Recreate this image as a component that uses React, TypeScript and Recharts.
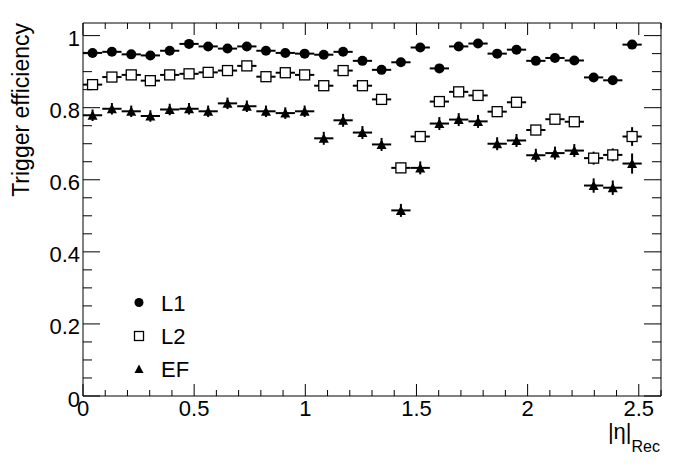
import { ErrorBar, Legend, Scatter, ScatterChart, XAxis, YAxis } from "recharts";

// |eta| bin centres (30 bins over 0-2.6, last one empty)
const etaBins = [
  0.043, 0.13, 0.217, 0.303, 0.39, 0.477, 0.563, 0.65, 0.737, 0.823,
  0.91, 0.997, 1.083, 1.17, 1.257, 1.343, 1.43, 1.517, 1.603, 1.69,
  1.777, 1.863, 1.95, 2.037, 2.123, 2.21, 2.297, 2.383, 2.47,
];
const etaHalfWidth = 0.0433;

const l1Eff = [
  0.952, 0.955, 0.948, 0.945, 0.958, 0.977, 0.970, 0.964, 0.970, 0.958,
  0.952, 0.950, 0.947, 0.955, 0.930, 0.905, 0.926, 0.967, 0.909, 0.970,
  0.978, 0.950, 0.961, 0.930, 0.938, 0.931, 0.884, 0.876, 0.975,
];
const l1Err = [
  0.004, 0.004, 0.004, 0.004, 0.004, 0.003, 0.003, 0.004, 0.003, 0.004,
  0.004, 0.004, 0.005, 0.005, 0.006, 0.007, 0.007, 0.005, 0.007, 0.005,
  0.004, 0.005, 0.005, 0.006, 0.006, 0.006, 0.008, 0.008, 0.006,
];
const l2Eff = [
  0.864, 0.885, 0.891, 0.875, 0.891, 0.894, 0.898, 0.903, 0.916, 0.886,
  0.897, 0.891, 0.861, 0.903, 0.861, 0.823, 0.633, 0.720, 0.817, 0.844,
  0.834, 0.789, 0.815, 0.738, 0.768, 0.761, 0.660, 0.669, 0.720,
];
const l2Err = [
  0.008, 0.008, 0.008, 0.008, 0.008, 0.008, 0.008, 0.008, 0.008, 0.008,
  0.008, 0.008, 0.010, 0.010, 0.010, 0.012, 0.014, 0.012, 0.012, 0.010,
  0.010, 0.012, 0.012, 0.014, 0.014, 0.014, 0.018, 0.018, 0.026,
];
const efEff = [
  0.779, 0.797, 0.790, 0.777, 0.795, 0.797, 0.790, 0.812, 0.804, 0.790,
  0.785, 0.790, 0.715, 0.765, 0.731, 0.698, 0.515, 0.633, 0.756, 0.767,
  0.762, 0.700, 0.709, 0.668, 0.674, 0.681, 0.584, 0.578, 0.645,
];
const efErr = [
  0.016, 0.016, 0.016, 0.016, 0.016, 0.016, 0.016, 0.016, 0.016, 0.016,
  0.016, 0.016, 0.018, 0.018, 0.018, 0.018, 0.018, 0.018, 0.018, 0.018,
  0.018, 0.018, 0.018, 0.018, 0.018, 0.018, 0.020, 0.020, 0.028,
];

const seriesNames = ["L1", "L2", "EF"];

const xTicks = [
  0, 0.1, 0.2, 0.3, 0.4, 0.5, 0.6, 0.7, 0.8, 0.9, 1, 1.1, 1.2, 1.3,
  1.4, 1.5, 1.6, 1.7, 1.8, 1.9, 2, 2.1, 2.2, 2.3, 2.4, 2.5, 2.6,
];
const yTicks = [
  0, 0.05, 0.1, 0.15, 0.2, 0.25, 0.3, 0.35, 0.4, 0.45, 0.5,
  0.55, 0.6, 0.65, 0.7, 0.75, 0.8, 0.85, 0.9, 0.95, 1,
];

const toPoints = (eff: number[], err: number[]) =>
  etaBins.map((x, i) => ({ x, y: eff[i], ex: etaHalfWidth, ey: err[i] }));

const l1Data = toPoints(l1Eff, l1Err);
const l2Data = toPoints(l2Eff, l2Err);
const efData = toPoints(efEff, efErr);

const FONT = "'Liberation Sans', Arial, Helvetica, sans-serif";

const isMult = (v: number, step: number) => Math.abs(v / step - Math.round(v / step)) < 1e-6;
const fmt = (v: number) => String(Number(v.toFixed(2)));

// markers
const Dot = ({ cx, cy, r = 5 }: any) => <circle cx={cx} cy={cy} r={r} fill="#000" />;
const Box = ({ cx, cy, s = 10 }: any) => (
  <rect x={cx - s / 2} y={cy - s / 2} width={s} height={s} fill="#fff" stroke="#000" strokeWidth={1.3} />
);
const Tri = ({ cx, cy, s = 10 }: any) => (
  <polygon
    points={`${cx},${cy - s / 2} ${cx + s / 2},${cy + s * 0.45} ${cx - s / 2},${cy + s * 0.45}`}
    fill="#000"
  />
);

// ticks (ROOT style, inward)
const BottomTick = ({ x, y, payload }: any) => {
  const major = isMult(payload.value, 0.5);
  return (
    <g>
      <line x1={x} y1={y} x2={x} y2={y - (major ? 12 : 6)} stroke="#000" />
      {major && (
        <text x={x} y={y + 20} textAnchor="middle" fontSize={22} fontFamily={FONT} fill="#000">
          {fmt(payload.value)}
        </text>
      )}
    </g>
  );
};
const TopTick = ({ x, y, payload }: any) => {
  const major = isMult(payload.value, 0.5);
  return <line x1={x} y1={y} x2={x} y2={y + (major ? 12 : 6)} stroke="#000" />;
};
const LeftTick = ({ x, y, payload }: any) => {
  const major = isMult(payload.value, 0.2);
  return (
    <g>
      <line x1={x} y1={y} x2={x + (major ? 17 : 9)} y2={y} stroke="#000" />
      {major && (
        <text x={x - 3} y={y + 10.5} textAnchor="end" fontSize={22} fontFamily={FONT} fill="#000">
          {fmt(payload.value)}
        </text>
      )}
    </g>
  );
};
const RightTick = ({ x, y, payload }: any) => {
  const major = isMult(payload.value, 0.2);
  return <line x1={x} y1={y} x2={x - (major ? 17 : 9)} y2={y} stroke="#000" />;
};

const YTitle = () => (
  <text transform="translate(29,23) rotate(-90)" textAnchor="end" fontSize={23} fontFamily={FONT} fill="#000">
    Trigger efficiency
  </text>
);
const XTitle = () => (
  <text x={660} y={439} textAnchor="end" fontFamily={FONT} fill="#000">
    <tspan fontSize={22}>|η|</tspan>
    <tspan fontSize={16} dy={13}>Rec</tspan>
  </text>
);

const markerFor: Record<string, (p: any) => any> = {
  L1: (p) => <Dot {...p} r={4.5} />,
  L2: (p) => <Box {...p} s={9} />,
  EF: (p) => <Tri {...p} s={9} />,
};

const LegendBox = () => (
  <svg width={100} height={104}>
    {seriesNames.map((name, i) => {
      const cy = [19.5, 53, 86][i];
      return (
        <g key={name}>
          {markerFor[name]({ cx: 14, cy })}
          <text x={36} y={cy + 8} fontSize={22} fontFamily={FONT} fill="#000">
            {name}
          </text>
        </g>
      );
    })}
  </svg>
);

const axisCommon = {
  tickSize: 0,
  tickMargin: 0,
  tickLine: false,
  interval: 0 as const,
  allowDataOverflow: true,
  axisLine: { stroke: "#000" },
};

export default function App() {
  return (
    <div style={{ position: "absolute", left: 0, top: 0, width: 696, height: 472, background: "#fff", fontFamily: FONT }}>
      <ScatterChart width={696} height={472} margin={{ top: 22, right: 34, bottom: 75, left: 82 }}>
        <XAxis
          {...axisCommon}
          xAxisId="b"
          type="number"
          dataKey="x"
          domain={[0, 2.6]}
          ticks={xTicks}
          height={1}
          tick={<BottomTick />}
          label={<XTitle />}
        />
        <XAxis
          {...axisCommon}
          xAxisId="t"
          orientation="top"
          type="number"
          dataKey="x"
          domain={[0, 2.6]}
          ticks={xTicks}
          height={1}
          tick={<TopTick />}
        />
        <YAxis
          {...axisCommon}
          yAxisId="l"
          type="number"
          dataKey="y"
          domain={[0, 1.035]}
          ticks={yTicks}
          width={1}
          tick={<LeftTick />}
          label={<YTitle />}
        />
        <YAxis
          {...axisCommon}
          yAxisId="r"
          orientation="right"
          type="number"
          dataKey="y"
          domain={[0, 1.035]}
          ticks={yTicks}
          width={1}
          tick={<RightTick />}
        />
        <Legend
          layout="vertical"
          align="center"
          verticalAlign="middle"
          content={<LegendBox />}
          wrapperStyle={{ left: 125, top: 283, width: 100, height: 104 }}
        />
        <Scatter name="L1" data={l1Data} xAxisId="b" yAxisId="l" isAnimationActive={false} shape={(p: any) => <Dot {...p} />}>
          <ErrorBar dataKey="ex" direction="x" width={0} stroke="#000" strokeWidth={2} />
          <ErrorBar dataKey="ey" direction="y" width={0} stroke="#000" strokeWidth={2} />
        </Scatter>
        <Scatter name="L2" data={l2Data} xAxisId="b" yAxisId="l" isAnimationActive={false} shape={(p: any) => <Box {...p} />}>
          <ErrorBar dataKey="ex" direction="x" width={0} stroke="#000" strokeWidth={2} />
          <ErrorBar dataKey="ey" direction="y" width={0} stroke="#000" strokeWidth={2} />
        </Scatter>
        <Scatter name="EF" data={efData} xAxisId="b" yAxisId="l" isAnimationActive={false} shape={(p: any) => <Tri {...p} />}>
          <ErrorBar dataKey="ex" direction="x" width={0} stroke="#000" strokeWidth={2} />
          <ErrorBar dataKey="ey" direction="y" width={0} stroke="#000" strokeWidth={2} />
        </Scatter>
      </ScatterChart>
    </div>
  );
}
